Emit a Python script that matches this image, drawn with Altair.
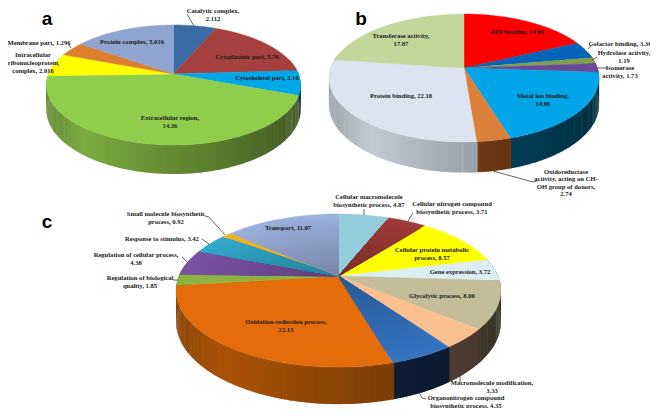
import math
import altair as alt

# ---- data ----
a_names = ["Catalytic complex", "Cytoplasmic part", "Cytoskeletal part", "Extracellular region",
           "Intracellular ribonucleoprotein complex", "Membrane part", "Protein complex"]
a_values = [2.112, 5.76, 2.16, 14.36, 2.016, 1.296, 5.016]
a_colors = ["#3b6ca6", "#a5403e", "#00a8e8", "#8fce4b", "#ffff00", "#de7f30", "#8fa5cf"]
a_walls = ["#2b5078", "#7a2f2d", "#00587a", "#7cab40", "#a8a800", "#a05a20", "#64749a"]

b_names = ["ATP binding", "Cofactor binding", "Hydrolase activity", "Isomerase activity", "Metal ion binding",
           "Oxidoreductase activity", "Protein binding", "Transferase activity"]
b_values = [14.09, 3.36, 1.19, 1.73, 14.96, 2.74, 22.18, 17.87]
b_colors = ["#fe0000", "#0563b8", "#80a04e", "#6a4a96", "#00a6e8", "#dc7f3a", "#dbe4f0", "#c3d69b"]
b_walls = ["#900000", "#033a6c", "#4a5e2c", "#3d2b58", "#00587a", "#8a4a1c", "#c4cbd4", "#8a9a6c"]

c_names = ["Cellular macromolecule", "Cellular nitrogen", "Cellular protein metabolic", "Gene expression",
           "Glycolytic process", "Macromolecule modification", "Organonitrogen", "Oxidation-reduction",
           "Regulation of biological quality", "Regulation of cellular process", "Response to stimulus",
           "Small molecule biosynthetic", "Transport"]
c_values = [4.87, 3.71, 8.57, 3.72, 8.00, 3.33, 4.35, 22.13, 1.85, 4.38, 3.42, 0.92, 11.07]
c_colors = ["#92cddc", "#a03b39", "#ffff00", "#dbeef4", "#c4bd97", "#fac090", "#3573c0", "#e46c0a",
            "#8cb33f", "#7a52a4", "#31a9c9", "#f5b014", "#9bb0dc"]
c_walls = ["#5a8a96", "#6a2624", "#a8a800", "#8a9ea4", "#6a6348", "#806250", "#14294a", "#ab5408",
           "#5c7828", "#4a3166", "#207088", "#a87808", "#64749a"]
c_shaded = ["Cellular nitrogen", "Organonitrogen", "Regulation of cellular process",
            "Response to stimulus", "Transport"]

# pie layout: centre x, centre y, half width A, half height B, tilt k, wall depth
pie_a = (173.5, 74, 125, 58, 0.183, 23.7)
pie_b = (464, 68, 133.4, 62.4, 0.156, 25.9)
pie_c = (338.5, 276, 159.5, 73.8, 0.19, 30)

LINE_H = 7.6
labels = [
    ("Catalytic complex,\n2.112", 213, 15), ("Cytoplasmic part, 5.76", 247, 57), ("Cytoskeletal part, 2.16", 267, 78),
    ("Extracellular region,\n14.36", 170, 122), ("Intracellular\nribonucleoprotein\ncomplex, 2.016", 33, 63),
    ("Membrane part, 1.296", 39, 43), ("Protein complex, 5.016", 132, 42),
    ("ATP binding, 14.09", 517, 32), ("Cofactor binding, 3.36", 620, 44), ("Hydrolase activity,\n1.19", 624, 57),
    ("Isomerase\nactivity, 1.73", 620, 72), ("Metal ion binding,\n14.96", 543, 100),
    ("Oxidoreductase\nactivity, acting on CH-\nOH group of donors,\n2.74", 566, 183),
    ("Protein binding, 22.18", 401, 96), ("Transferase activity,\n17.87", 401, 40),
    ("Cellular macromolecule\nbiosynthetic process, 4.87", 369, 201),
    ("Cellular nitrogen compound\nbiosynthetic process, 3.71", 452, 208),
    ("Cellular protein metabolic\nprocess, 8.57", 432, 254), ("Gene expression, 3.72", 460, 272),
    ("Glycolytic process, 8.00", 442, 296), ("Macromolecule modification,\n3.33", 492, 387),
    ("Organonitrogen compound\nbiosynthetic process, 4.35", 466, 402), ("Oxidation-reduction process,\n22.13", 286, 326),
    ("Regulation of biological\nquality, 1.85", 140, 282), ("Regulation of cellular process,\n4.38", 136, 259),
    ("Response to stimulus, 3.42", 162, 239), ("Small molecule biosynthetic\nprocess, 0.92", 166, 218),
    ("Transport, 11.07", 288, 228),
]
panel_letters = [("a", 47, 19), ("b", 361, 19), ("c", 47, 222)]
leaders = [
    [(194, 26), (187, 14)], [(71, 48), (69, 45)], [(59, 66), (57, 64)],
    [(588, 49), (593, 44)], [(592, 60), (597, 57)], [(598, 68), (607, 68)],
    [(493, 171), (533, 182), (537, 181)],
    [(364, 209), (364, 215)], [(408, 221), (413, 213)], [(460, 374), (460, 383)],
    [(419, 392), (422, 398), (426, 399)], [(225, 235), (209, 217), (205, 216)],
    [(209, 244), (202, 239)], [(187, 262), (182, 257)], [(178, 280), (173, 280)],
]


def mix(hex_color, f):
    r, g, b = (int(hex_color[i:i + 2], 16) for i in (1, 3, 5))
    return "#%02x%02x%02x" % (min(255, int(r * f)), min(255, int(g * f)), min(255, int(b * f)))


def project(pie, theta, radius=1.0, drop=0.0):
    cx, cy, A, B, k, D = pie
    u, v = math.sin(theta) * radius, math.cos(theta) * radius
    w = 1 + k * v
    return [cx + A * u / w, cy - B * v / w + drop * D / w]


def wall_shade(u):
    if u < -0.6:
        return 0.78 + (u + 1) / 0.4 * 0.22
    return 1.0 - (u + 0.6) / 1.6 * 0.5


def feature(coords, color):
    return {"type": "Feature", "properties": {"color": color},
            "geometry": {"type": "Polygon", "coordinates": [coords + [coords[0]]]}}


OVERLAP = math.radians(0.4)
wall_features, top_features, band_features = [], [], []
for pie, names, values, colors, walls in [(pie_a, a_names, a_values, a_colors, a_walls),
                                          (pie_b, b_names, b_values, b_colors, b_walls),
                                          (pie_c, c_names, c_values, c_colors, c_walls)]:
    total = sum(values)
    start = 0.0
    strips = []
    for name, val, col, wall in zip(names, values, colors, walls):
        end = start + val / total * 2 * math.pi
        n = max(2, int((end - start) / math.radians(1)))
        ts = [start + (end - start) * i / n for i in range(n + 1)]
        top_features.append(feature([project(pie, 0, 0)] + [project(pie, t) for t in ts], col))
        if name in c_shaded:
            for j in range(1, 19):
                r = 1 - j * 0.05
                band_features.append(feature([project(pie, 0, 0)] + [project(pie, t, r) for t in ts],
                                             mix(col, 1 - j * 0.012)))
        for i in range(n):
            t0, t1 = ts[i], ts[i + 1]
            mid = (t0 + t1) / 2
            if math.cos(mid) > 0.25:
                continue
            # strips are painted back to front; each one reaches slightly under-neighbour to hide seams
            if mid < math.pi:
                t0 -= OVERLAP
            else:
                t1 += OVERLAP
            strips.append((math.cos(mid), feature(
                [project(pie, t0), project(pie, t1), project(pie, t1, drop=1), project(pie, t0, drop=1)],
                mix(wall, wall_shade(math.sin(mid))))))
        start = end
    strips.sort(key=lambda s: -s[0])
    wall_features += [s[1] for s in strips]

projection = dict(type="identity", scale=1, translate=[-8, -8])


def shapes(features, sw):
    return alt.Chart(alt.InlineData(values={"type": "FeatureCollection", "features": features},
                                    format=alt.DataFormat(property="features", type="json"))
                     ).mark_geoshape(strokeWidth=sw).encode(
        color=alt.Color("properties.color:N", scale=None),
        stroke=alt.Stroke("properties.color:N", scale=None),
    ).project(**projection)


leader_features = [{"type": "Feature", "properties": {},
                    "geometry": {"type": "LineString", "coordinates": [list(p) for p in pts]}} for pts in leaders]
leader_layer = alt.Chart(alt.InlineData(values={"type": "FeatureCollection", "features": leader_features},
                                        format=alt.DataFormat(property="features", type="json"))
                         ).mark_geoshape(filled=False, stroke="#222222", strokeWidth=0.7).project(**projection)

# the y of a label is its block's centre; a multi-line mark is anchored on its first line
label_rows = [{"t": t, "x": x, "y": y - t.count("\n") * LINE_H / 2} for t, x, y in labels]
text_layer = alt.Chart(alt.Data(values=label_rows)).mark_text(
    font="Liberation Serif", fontWeight="bold", fontSize=6.6, color="#1a1a1a", lineBreak="\n", lineHeight=LINE_H,
    align="center", baseline="middle"
).encode(longitude="x:Q", latitude="y:Q", text="t:N").project(**projection)

letter_layer = alt.Chart(alt.Data(values=[{"t": t, "x": x, "y": y} for t, x, y in panel_letters])).mark_text(
    font="Liberation Sans", fontWeight="bold", fontSize=19, color="#000000", align="center", baseline="middle"
).encode(longitude="x:Q", latitude="y:Q", text="t:N").project(**projection)

chart = alt.layer(
    shapes(wall_features, 0), shapes(top_features, 0.4), shapes(band_features, 0.2),
    leader_layer, text_layer, letter_layer
).properties(width=642, height=400, padding=0, autosize=alt.AutoSizeParams(type="none"), background="white"
             ).configure_view(stroke=None)

chart.save("out.html", embed_options={"renderer": "svg", "actions": False})
